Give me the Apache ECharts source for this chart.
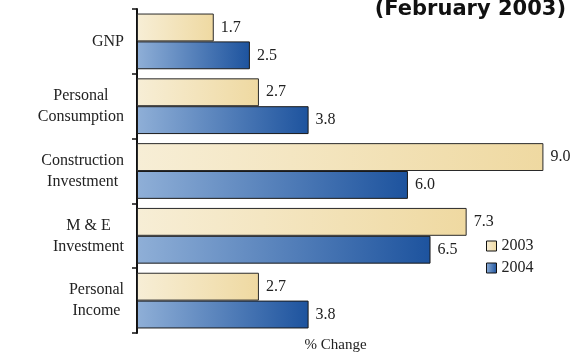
<!DOCTYPE html>
<html>
<head>
<meta charset="utf-8">
<style>
  html, body { margin: 0; padding: 0; background: #fff; }
  #chart { width: 573px; height: 355px; }
</style>
<script src="https://cdn.jsdelivr.net/npm/echarts@6/dist/echarts.min.js"></script>
</head>
<body>
<div id="chart"></div>
<script>
var categories = ['GNP', 'Personal\nConsumption', 'Construction\nInvestment', 'M & E\nInvestment', 'Personal\nIncome'];
var values2003 = [1.7, 2.7, 9.0, 7.3, 2.7];
var values2004 = [2.5, 3.8, 6.0, 6.5, 3.8];

var chart = echarts.init(document.getElementById('chart'));

function grad(from, to) {
  return new echarts.graphic.LinearGradient(0, 0, 1, 0, [
    { offset: 0, color: from },
    { offset: 1, color: to }
  ]);
}

var labelStyle = {
  show: true,
  position: 'right',
  distance: 7,
  fontFamily: 'Liberation Serif',
  fontSize: 16,
  color: '#222',
  formatter: function (p) { return p.value.toFixed(1); }
};

var option = {
  animation: false,
  title: {
    text: '(February 2003)',
    right: 2,
    top: -6,
    textStyle: {
      fontFamily: 'DejaVu Sans',
      fontWeight: 'bold',
      fontSize: 21,
      color: '#111'
    }
  },
  legend: {
    orient: 'vertical',
    left: 481,
    top: 233,
    icon: 'rect',
    itemWidth: 10,
    itemHeight: 10,
    itemGap: 6,
    data: ['2003', '2004'],
    itemStyle: { borderColor: '#111', borderWidth: 1 },
    textStyle: { fontFamily: 'Liberation Serif', fontSize: 16, color: '#222' }
  },
  grid: { left: 137, right: 7, top: 9, bottom: 22, containLabel: false, outerBoundsMode: 'none' },
  xAxis: {
    type: 'value',
    min: 0,
    max: 9.5,
    name: '% Change',
    nameLocation: 'middle',
    nameGap: 5,
    nameTextStyle: { fontFamily: 'Liberation Serif', fontSize: 15, color: '#222', padding: [0, 32, 0, 0] },
    axisLine: { show: false },
    axisTick: { show: false },
    axisLabel: { show: false },
    splitLine: { show: false }
  },
  yAxis: {
    type: 'category',
    inverse: true,
    data: categories,
    axisLine: { show: true, lineStyle: { color: '#111', width: 2 } },
    axisTick: { show: true, inside: false, length: 5, lineStyle: { color: '#111', width: 1.5 } },
    axisLabel: {
      margin: 13,
      color: '#222',
      formatter: function (v) {
        return v.split('\n').map(function (s) { return '{a|' + s + '}'; }).join('\n');
      },
      rich: {
        a: {
          fontFamily: 'Liberation Serif',
          fontSize: 16,
          lineHeight: 21,
          align: 'center',
          color: '#222'
        }
      }
    }
  },
  series: [
    {
      name: '2003',
      type: 'bar',
      data: values2003,
      barGap: '0%',
      barCategoryGap: '14%',
      itemStyle: {
        color: grad('#F7EED6', '#EFD9A1'),
        borderColor: '#2a2a2a',
        borderWidth: 1
      },
      label: labelStyle
    },
    {
      name: '2004',
      type: 'bar',
      data: values2004,
      barGap: '0%',
      barCategoryGap: '14%',
      itemStyle: {
        color: grad('#8FAFD7', '#1D539E'),
        borderColor: '#1a1a1a',
        borderWidth: 1
      },
      label: labelStyle
    }
  ]
};

chart.setOption(option);
</script>
</body>
</html>
